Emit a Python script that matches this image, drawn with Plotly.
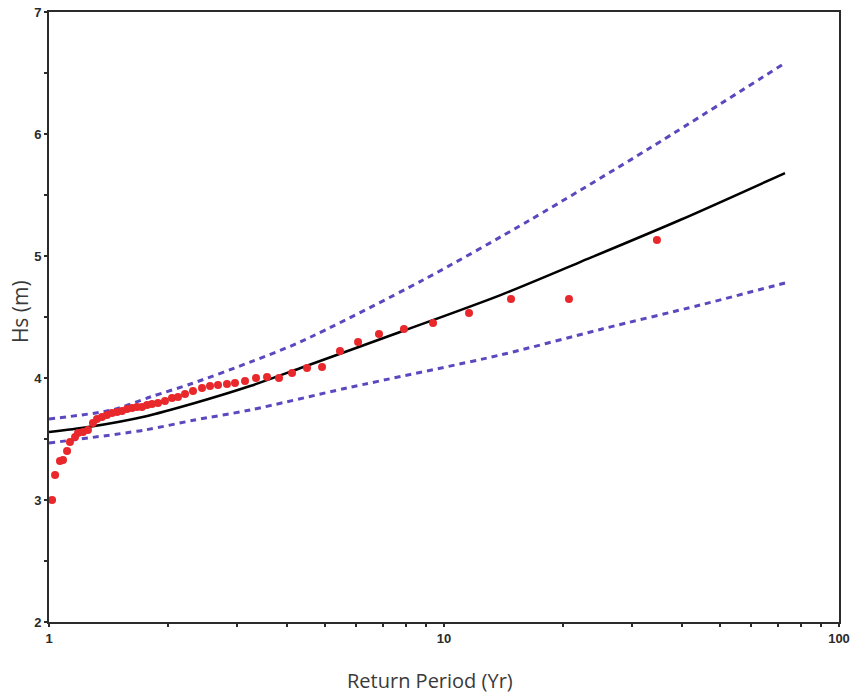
import plotly.graph_objects as go

# Observed data (return period in years, Hs in m)
obs_T = [1.018, 1.036, 1.066, 1.085, 1.111, 1.130, 1.164, 1.184, 1.219, 1.255,
         1.292, 1.323, 1.362, 1.402, 1.444, 1.487, 1.530, 1.576, 1.623, 1.670,
         1.720, 1.771, 1.823, 1.888, 1.966, 2.048, 2.121, 2.210, 2.315, 2.440,
         2.556, 2.678, 2.822, 2.957, 3.135, 3.343, 3.564, 3.822, 4.124, 4.500,
         4.912, 5.454, 6.059, 6.846, 7.918, 9.38, 11.57, 14.78, 20.72, 34.6]
obs_Hs = [3.000, 3.205, 3.320, 3.328, 3.402, 3.475, 3.516, 3.549, 3.557, 3.574,
          3.631, 3.664, 3.680, 3.697, 3.713, 3.721, 3.730, 3.746, 3.754, 3.762,
          3.762, 3.779, 3.787, 3.795, 3.811, 3.836, 3.844, 3.869, 3.893, 3.918,
          3.934, 3.943, 3.951, 3.959, 3.975, 4.000, 4.008, 4.000, 4.041, 4.082,
          4.090, 4.221, 4.295, 4.361, 4.402, 4.451, 4.533, 4.648, 4.648, 5.131]

# Fitted curve
fit_T = [1.0, 1.255, 1.75, 2.34, 3.23, 4.32, 7.74, 13.9, 22.1, 39.6, 73.0]
fit_Hs = [3.557, 3.598, 3.685, 3.795, 3.934, 4.080, 4.377, 4.680, 4.950, 5.295, 5.680]

# Upper confidence bound
up_T = [1.0, 1.444, 1.802, 2.302, 3.23, 4.32, 8.85, 16.51, 33.2, 71.7]
up_Hs = [3.664, 3.738, 3.844, 3.955, 4.130, 4.295, 4.803, 5.295, 5.885, 6.566]

# Lower confidence bound
lo_T = [1.0, 1.75, 2.34, 3.23, 5.68, 13.9, 25.0, 44.5, 73.0]
lo_Hs = [3.467, 3.574, 3.656, 3.738, 3.918, 4.189, 4.400, 4.598, 4.779]

x_tickvals = [1, 2, 3, 4, 5, 6, 7, 8, 9, 10, 20, 30, 40, 50, 60, 70, 80, 90, 100]
x_ticktext = ["1", "", "", "", "", "", "", "", "", "10", "", "", "", "", "", "", "", "", "100"]
y_tickvals = [2, 2.5, 3, 3.5, 4, 4.5, 5, 5.5, 6, 6.5, 7]
y_ticktext = ["2", "", "3", "", "4", "", "5", "", "6", "", "7"]

dash_color = "#5a48bf"

fig = go.Figure()
fig.add_trace(go.Scatter(x=up_T, y=up_Hs, mode="lines",
                         line=dict(color=dash_color, width=3, dash="6px,5px", shape="spline", smoothing=0.8)))
fig.add_trace(go.Scatter(x=lo_T, y=lo_Hs, mode="lines",
                         line=dict(color=dash_color, width=3, dash="6px,5px", shape="spline", smoothing=0.8)))
fig.add_trace(go.Scatter(x=fit_T, y=fit_Hs, mode="lines",
                         line=dict(color="black", width=2.5, shape="spline", smoothing=0.8)))
fig.add_trace(go.Scatter(x=obs_T, y=obs_Hs, mode="markers",
                         marker=dict(color="#e8282b", size=8, line=dict(width=0))))

axis_common = dict(showgrid=False, zeroline=False, showline=True, linecolor="#2b2b2b",
                   linewidth=2, mirror=True, ticks="outside", ticklen=3, tickwidth=1.5,
                   tickcolor="#2b2b2b", automargin=False,
                   tickfont=dict(family="Liberation Sans", size=13, color="#2a2a2a", weight="bold"))

fig.update_layout(
    width=851, height=695,
    margin=dict(l=49, r=12, t=12, b=73),
    paper_bgcolor="white", plot_bgcolor="white",
    showlegend=False,
    xaxis=dict(type="log", range=[0, 2], tickvals=x_tickvals, ticktext=x_ticktext, **axis_common),
    yaxis=dict(range=[2, 7], tickvals=y_tickvals, ticktext=y_ticktext, **axis_common),
    annotations=[
        dict(text="Return Period (Yr)", xref="paper", yref="paper", x=0.482, y=0,
             yshift=-58, xanchor="center", yanchor="middle", showarrow=False,
             font=dict(family="Open Sans", size=20, color="#3a3a3a")),
        dict(text="Hs (m)", xref="paper", yref="paper", x=0, y=0.508, xshift=-29,
             xanchor="center", yanchor="middle", showarrow=False, textangle=-90,
             font=dict(family="Open Sans", size=21, color="#3a3a3a")),
    ],
)

fig.write_html("out.html")
